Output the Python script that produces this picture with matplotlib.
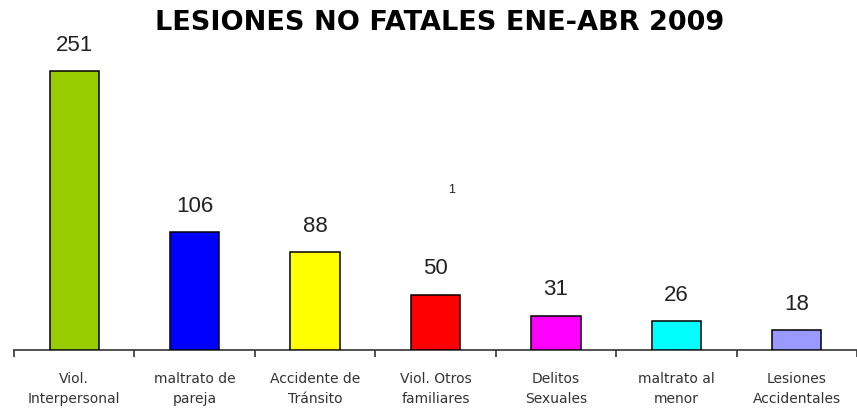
import matplotlib
matplotlib.use("Agg")
import matplotlib.pyplot as plt
import numpy as np

categories = ["Viol.\nInterpersonal", "maltrato de\npareja", "Accidente de\nTránsito",
              "Viol. Otros\nfamiliares", "Delitos\nSexuales", "maltrato al\nmenor",
              "Lesiones\nAccidentales"]
values = [251, 106, 88, 50, 31, 26, 18]
colors = ["#99CC00", "#0000FF", "#FFFF00", "#FF0000", "#FF00FF", "#00FFFF", "#9999FF"]
title = "LESIONES NO FATALES ENE-ABR 2009"
stray_label = "1"

plt.rcParams['font.family'] = ['Liberation Sans', 'DejaVu Sans']

fig = plt.figure(figsize=(8.57, 4.09), dpi=100)
W, H = 857, 409
left = 14 / W
bottom = (H - 350) / H
height = 333 / H
ax = fig.add_axes([left, bottom, 1 - left, height])

unit = 121.5
x = np.arange(len(categories))
ax.bar(x, values, width=0.41, color=colors, edgecolor="black", linewidth=1.1, zorder=3)
for xi, v in zip(x, values):
    ax.annotate(str(v), (xi, v), xytext=(0, 26), textcoords="offset pixels",
                ha="center", va="center", fontsize=16, color="#222222")

ax.text(3.13, 144, stray_label, ha="center", va="center", fontsize=9, color="#222222")

ax.set_ylim(0, 300)
ax.set_xlim(-0.5, -0.5 + (W - 14) / unit)
for s in ["top", "right", "left"]:
    ax.spines[s].set_visible(False)
ax.spines["bottom"].set_color("#333333")
ax.spines["bottom"].set_linewidth(1.2)
ax.set_yticks([])
ax.set_xticks(np.arange(len(categories) + 1) - 0.5)
ax.set_xticklabels([])
ax.tick_params(axis="x", direction="out", length=5, width=1.2, color="#333333")
ax.set_xticks(x, minor=True)
ax.set_xticklabels(categories, minor=True, fontsize=10, color="#333333",
                   linespacing=1.55, family="DejaVu Sans")
ax.tick_params(axis="x", which="minor", length=0, pad=16)

fig.text(440 / W, 1 - 22.5 / H, title, ha="center", va="center", fontsize=19.5,
         fontweight="bold", color="black", family="DejaVu Sans")

fig.savefig("out.png", dpi=100)
